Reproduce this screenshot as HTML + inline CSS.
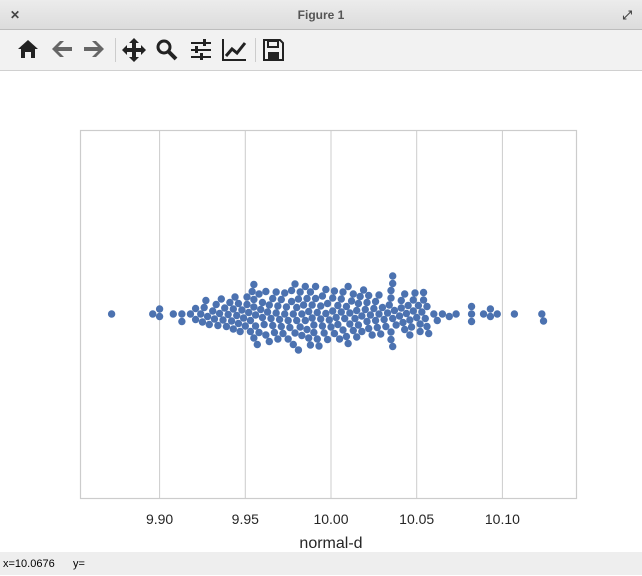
<!DOCTYPE html>
<html><head><meta charset="utf-8"><style>
body{margin:0;width:642px;height:575px;overflow:hidden;background:#fff;font-family:"Liberation Sans",sans-serif}
#title{position:absolute;left:0;top:0;width:642px;height:29px;background:linear-gradient(#ececec,#dcdcdc);border-bottom:1px solid #bdbdbd;text-align:center;line-height:30px;font-size:12px;font-weight:bold;color:#555}
#tool{position:absolute;left:0;top:30px;width:642px;height:40px;background:#f2f2f2;border-bottom:1px solid #d0d0d0}
#status{position:absolute;left:0;top:552px;width:642px;height:23px;background:#eeeeee;font-size:11px;line-height:24px;color:#000}
</style></head><body>
<div id="title"><span style="position:absolute;left:10px;top:0;color:#444">✕</span>Figure 1<span style="position:absolute;right:10px;top:0;color:#444">⤢</span></div>
<div id="tool">
<svg width="642" height="40">
<g fill="#222">
<g><path d="M18 19 L28 10 L38 19 L35 19 L35 28 L31 28 L31 22 L25 22 L25 28 L21 28 L21 19Z"/></g>
<g fill="#666"><path d="M52 19 L60 11 L64 11 L58 17 L72 17 L72 21 L58 21 L64 27 L60 27Z"/></g>
<g fill="#666"><path d="M104 19 L96 11 L92 11 L98 17 L84 17 L84 21 L98 21 L92 27 L96 27Z"/></g>
<rect x="115" y="8" width="1" height="24" fill="#ccc"/>
<g><path d="M134 8 L139 13 L136 13 L136 18 L141 18 L141 15 L146 20 L141 25 L141 22 L136 22 L136 27 L139 27 L134 32 L129 27 L132 27 L132 22 L127 22 L127 25 L122 20 L127 15 L127 18 L132 18 L132 13 L129 13Z"/></g>
<g><circle cx="164" cy="17" r="6" fill="none" stroke="#222" stroke-width="3"/><path d="M168 21 L176 29" stroke="#222" stroke-width="4"/></g>
<g><rect x="191" y="12" width="20" height="2"/><rect x="191" y="19" width="20" height="2"/><rect x="191" y="26" width="20" height="2"/><rect x="203" y="9" width="3" height="7"/><rect x="195" y="16" width="3" height="7"/><rect x="200" y="23" width="3" height="7"/></g>
<g><path d="M223 9 L223 30 L246 30" fill="none" stroke="#222" stroke-width="2"/><path d="M226 26 L232 19 L237 23 L245 13" fill="none" stroke="#222" stroke-width="3"/></g>
<rect x="255" y="8" width="1" height="24" fill="#ccc"/>
<g><path d="M264 10 L280 10 L283 13 L283 30 L264 30Z" fill="none" stroke="#222" stroke-width="2"/><rect x="268" y="11" width="10" height="6" fill="none" stroke="#222" stroke-width="2"/><rect x="268" y="22" width="11" height="7"/></g>
</g></svg></div>
<svg id="chart" width="642" height="482" style="position:absolute;left:0;top:70px"></svg>
<div id="status"><span style="margin-left:3px">x=10.0676&nbsp;&nbsp;&nbsp;&nbsp;&nbsp;&nbsp;y=</span></div>
<script>
const values=[9.872,9.896,9.900,9.900,9.908,9.913,9.913,9.918,9.921,9.921,9.924,9.925,9.926,9.927,9.928,
9.931,9.933,9.934,9.935,9.936,9.937,9.938,9.940,9.941,9.942,9.943,9.944,9.945,9.946,9.947,9.948,
9.949,9.950,9.951,9.952,9.953,9.954,9.955,9.955,9.956,9.957,9.958,9.959,9.960,9.961,9.962,9.963,9.964,
9.965,9.966,9.967,9.968,9.969,9.970,9.971,9.972,9.973,9.974,9.975,9.976,9.977,9.977,9.978,9.979,9.980,9.980,
9.981,9.982,9.983,9.984,9.985,9.986,9.986,9.987,9.988,9.989,9.990,9.990,
9.991,9.992,9.993,9.994,9.995,9.996,9.997,9.998,9.999,10.000,
10.001,10.002,10.003,10.004,10.005,10.006,10.007,10.008,10.009,10.010,10.010,
10.011,10.012,10.013,10.014,10.015,10.016,10.017,10.018,10.019,
10.020,10.021,10.022,10.023,10.025,10.026,10.027,10.028,10.029,
10.031,10.033,10.034,10.035,10.035,10.035,10.036,10.036,10.036,10.037,
10.040,10.041,10.042,10.043,10.044,10.045,10.046,10.047,10.048,10.049,
10.050,10.051,10.052,10.053,10.054,10.055,10.056,10.057,10.060,10.062,10.065,10.069,
10.073,10.082,10.082,10.082,10.089,10.093,10.093,10.097,10.107,10.123,10.124,
9.951,9.953,9.955,9.955,9.956,9.958,9.960,9.962,9.964,9.966,9.968,9.969,9.971,9.973,9.975,9.978,9.979,
9.981,9.982,9.983,9.985,9.987,9.988,9.989,9.991,9.992,9.994,9.995,9.997,9.998,10.001,10.002,10.004,
10.006,10.007,10.009,10.011,10.013,10.015,10.016,10.018,10.021,10.022,10.024,10.026,10.028,10.030,
10.032,10.035,10.036,10.038,10.041,10.043,10.046,10.048,10.052,10.054,10.056,9.939,9.943,9.946,9.929,9.932];
const ticks=[9.90,9.95,10.00,10.05,10.10];
const tickLabels=["9.90","9.95","10.00","10.05","10.10"];
const NS="http://www.w3.org/2000/svg";
const svg=document.getElementById('chart');
const L=80,R=576,T=60,B=428,cy=244;
function xs(v){return 331+(v-10)*1714;}
function mk(t,a){const e=document.createElementNS(NS,t);for(const k in a)e.setAttribute(k,a[k]);svg.appendChild(e);return e;}
ticks.forEach((t,i)=>{
 const g=mk('line',{x1:xs(t),x2:xs(t),y1:T,y2:B,stroke:'#cccccc','stroke-width':1});
 
 
 const tx=mk('text',{x:xs(t),y:B+26,'text-anchor':'middle','font-size':14,fill:'#262626','font-family':'Liberation Sans, sans-serif'});
 tx.textContent=tickLabels[i];
 
 
});
const fr=mk('rect',{x:L+0.5,y:T+0.5,width:R-L,height:B-T,fill:'none',stroke:'#cccccc','stroke-width':1.2});


const xl=mk('text',{x:331,y:B+50,'text-anchor':'middle','font-size':16,fill:'#262626','font-family':'Liberation Sans, sans-serif'});
xl.textContent='normal-d';


const D=7.2,placed=[];
values.slice().sort((a,b)=>a-b).forEach(v=>{
 const x=xs(v);let off=0;
 for(let k=0;k<300;k++){
  const oo=k===0?0:(k%2? Math.ceil(k/2):-Math.ceil(k/2))*0.5;
  if(placed.every(p=>Math.hypot(p[0]-x,p[1]-oo)>=D)){off=oo;break;}
 }
 placed.push([x,off]);
 const c=mk('circle',{cx:x,cy:cy+off,r:3.7,fill:'#4c72b0'});
 
 
});
</script>
</body></html>
